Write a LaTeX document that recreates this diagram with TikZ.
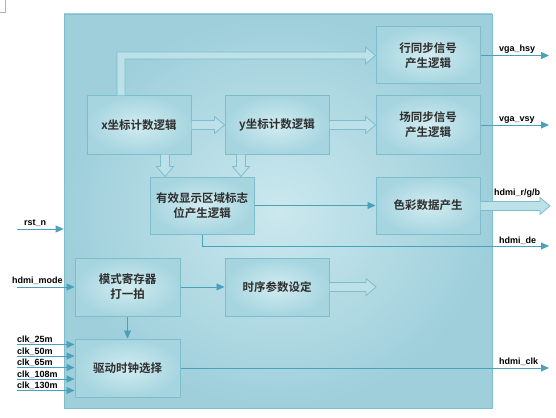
\documentclass[tikz,border=0pt]{standalone}
\usepackage{fontspec}
\setmainfont{Liberation Sans}
\newfontfamily\cjk[BoldFont={Noto Sans CJK SC Bold}]{Noto Sans CJK SC}
\usetikzlibrary{arrows.meta,calc}
\definecolor{bgedge}{HTML}{9ECFDB}
\definecolor{bgmid}{HTML}{CBE8EE}
\definecolor{bxedge}{HTML}{A6D5E0}
\definecolor{bxmid}{HTML}{D2ECF1}
\definecolor{bxline}{HTML}{7DBDCC}
\definecolor{sigc}{HTML}{4AA2BA}
\definecolor{blkfill}{HTML}{BDE1E9}
\definecolor{txt}{HTML}{2E2E2E}
\tikzset{
  mainbox/.style={draw=bxline, line width=0.8pt, inner color=bgmid, outer color=bgedge, minimum width=428, minimum height=394, inner sep=0pt},
  box/.style={draw=bxline, line width=1pt, inner color=bxmid, outer color=bxedge, minimum width=104, minimum height=58, inner sep=0pt, align=center, text=txt, font=\cjk\bfseries\fontsize{11.5}{15}\selectfont},
  blk/.style={draw=bxline, line width=0.8pt, fill=blkfill, line join=miter},
  sig/.style={draw=sigc, line width=0.9pt, -{Triangle[length=8pt,width=7pt]}},
  lbl/.style={font=\bfseries\fontsize{9}{10}\selectfont, inner sep=0pt, anchor=base west, text=black}
}
\newcommand\blkH[2]{%
  \draw[blk] ($(#1)+(0,-4.5)$) -- ($(#2)+(-10,-4.5)$) -- ($(#2)+(-10,-8.5)$) -- (#2) -- ($(#2)+(-10,8.5)$) -- ($(#2)+(-10,4.5)$) -- ($(#1)+(0,4.5)$);}
\newcommand\blkV[2]{%
  \draw[blk] ($(#1)+(-4.5,0)$) -- ($(#2)+(-4.5,-10)$) -- ($(#2)+(-8.5,-10)$) -- (#2) -- ($(#2)+(8.5,-10)$) -- ($(#2)+(4.5,-10)$) -- ($(#1)+(4.5,0)$);}
\begin{document}
\begin{tikzpicture}[x=1pt,y=-1pt]
\useasboundingbox (0,0) rectangle (556,417);
\fill[white] (0,0) rectangle (556,417);
\draw[gray!60, line width=0.8pt] (0,12.5) -- (5,12.5) -- (5,0);
% main box
\node[mainbox] (main) at (278,211) {};
% blocks
\node[box] (xc) at (139,125) {x坐标计数逻辑};
\node[box] (yc) at (277,125) {y坐标计数逻辑};
\node[box, minimum height=57] (hs) at (428,55.5) {行同步信号\\产生逻辑};
\node[box] (vs) at (428,125) {场同步信号\\产生逻辑};
\node[box, minimum height=57] (col) at (428,205.5) {色彩数据产生};
\node[box, minimum height=57] (de) at (202,205.5) {有效显示区域标志\\位产生逻辑};
\node[box, minimum width=105] (mode) at (127.5,287) {模式寄存器\\打一拍};
\node[box] (tim) at (277,287) {时序参数设定};
\node[box, minimum width=105] (clk) at (127.5,368) {驱动时钟选择};
% hollow block arrows
\blkH{xc.east}{yc.west}
\blkH{yc.east}{vs.west}
\coordinate (a1) at ($(xc.south)+(26,0)$);
\coordinate (a1t) at (a1 |- de.north);
\blkV{a1}{a1t}
\coordinate (a2) at ($(yc.south)+(-36,0)$);
\coordinate (a2t) at (a2 |- de.north);
\blkV{a2}{a2t}
\coordinate (rgbout) at (550,206);
\coordinate (rgbst) at (col.east |- rgbout);
\blkH{rgbst}{rgbout}
\coordinate (timout) at (376,287);
\blkH{tim.east}{timout}
\coordinate (b0) at ($(xc.north)+(-18,0)$);
\coordinate (b1) at (b0 |- hs.west);
\draw[blk] ($(b0)+(-4,0)$) -- ($(b1)+(-4,-3.5)$) -- ($(hs.west)+(-10,-3.5)$) -- ($(hs.west)+(-10,-8.5)$) -- (hs.west) -- ($(hs.west)+(-10,8.5)$) -- ($(hs.west)+(-10,3.5)$) -- ($(b1)+(4,3.5)$) -- ($(b0)+(4,0)$);
% signal arrows
\draw[sig] (de.east) -- (col.west);
\coordinate (deout) at (549,246);
\draw[sig] (de.south) |- (deout);
\coordinate (hsout) at (549,55.5);
\draw[sig] (hs.east) -- (hsout);
\coordinate (vsout) at (549,125);
\draw[sig] (vs.east) -- (vsout);
\coordinate (clkout) at (549,368);
\draw[sig] (clk.east) -- (clkout);
\coordinate (rstin) at (17,229);
\draw[sig] (rstin) -- (rstin -| main.west);
\coordinate (modein) at (17,287);
\draw[sig] (modein) -- (mode.west);
\draw[sig] (mode.east) -- (tim.west);
\draw[sig] (mode.south) -- (clk.north);
\foreach \n/\yy in {25m/344.5, 50m/356, 65m/367.5, 108m/379, 130m/390.5}{
  \coordinate (c\n) at (17,\yy);
  \draw[sig] (c\n) -- (c\n -| clk.west);
  \node[lbl] (l\n) at ($(c\n)+(0,-2)$) {clk\_\n};
}
% labels
\node[lbl] (lhs) at (499,52) {vga\_hsy};
\node[lbl] (lvs) at (499,121.5) {vga\_vsy};
\node[lbl] (lrgb) at (494,195) {hdmi\_r/g/b};
\node[lbl] (lde) at (499,243) {hdmi\_de};
\node[lbl] (lclk) at (499,364.5) {hdmi\_clk};
\node[lbl] (lrst) at (24,225.5) {rst\_n};
\node[lbl] (lmode) at (12,283.5) {hdmi\_mode};
\end{tikzpicture}
\end{document}
